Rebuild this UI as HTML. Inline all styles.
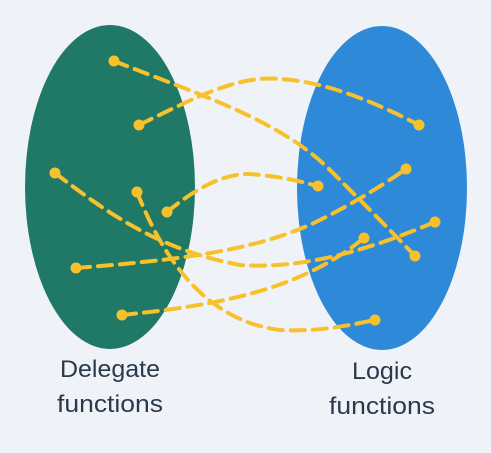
<!DOCTYPE html>
<html><head><style>html,body{margin:0;padding:0;background:#eff3f7}</style></head>
<body>
<svg width="491" height="448" viewBox="0 0 491 448" xmlns="http://www.w3.org/2000/svg">
<rect width="491" height="448" fill="#eff3f7"/>
<ellipse cx="110" cy="187" rx="85" ry="162" fill="#207966"/>
<ellipse cx="382" cy="188" rx="85" ry="162" fill="#2e89d9"/>
<g fill="none" stroke="#f6c12a" stroke-width="4" stroke-dasharray="14,8" stroke-linecap="round">
<path d="M114,61 C200,95 280,120 330,170 C370,210 395,235 415,256"/>
<path d="M139,125 C200,95 240,75 280,79 C330,82 380,105 419,125"/>
<path d="M55,173 C110,215 160,250 240,265 C310,270 380,245 435,222"/>
<path d="M137,192 C160,250 200,320 280,330 C320,332 350,325 375,320"/>
<path d="M167,212 C200,185 230,170 260,175 C290,178 305,183 318,186"/>
<path d="M76,268 C180,260 260,250 320,220 C360,200 390,180 406,169"/>
<path d="M122,315 C220,305 300,290 364,238"/>
</g>
<g fill="#f6c12a">
<circle cx="114" cy="61" r="5.5"/><circle cx="139" cy="125" r="5.5"/><circle cx="55" cy="173" r="5.5"/>
<circle cx="137" cy="192" r="5.5"/><circle cx="167" cy="212" r="5.5"/><circle cx="76" cy="268" r="5.5"/>
<circle cx="122" cy="315" r="5.5"/><circle cx="419" cy="125" r="5.5"/><circle cx="406" cy="169" r="5.5"/>
<circle cx="318" cy="186" r="5.5"/><circle cx="435" cy="222" r="5.5"/><circle cx="364" cy="238" r="5.5"/>
<circle cx="415" cy="256" r="5.5"/><circle cx="375" cy="320" r="5.5"/>
</g>
<g font-family="Liberation Sans, sans-serif" font-size="24" fill="#2a3a4b" text-anchor="middle">
<text x="110" y="377" textLength="100" lengthAdjust="spacingAndGlyphs">Delegate</text>
<text x="110" y="412" textLength="106" lengthAdjust="spacingAndGlyphs">functions</text>
<text x="382" y="379" textLength="60" lengthAdjust="spacingAndGlyphs">Logic</text>
<text x="382" y="414" textLength="106" lengthAdjust="spacingAndGlyphs">functions</text>
</g>
</svg>
</body></html>
